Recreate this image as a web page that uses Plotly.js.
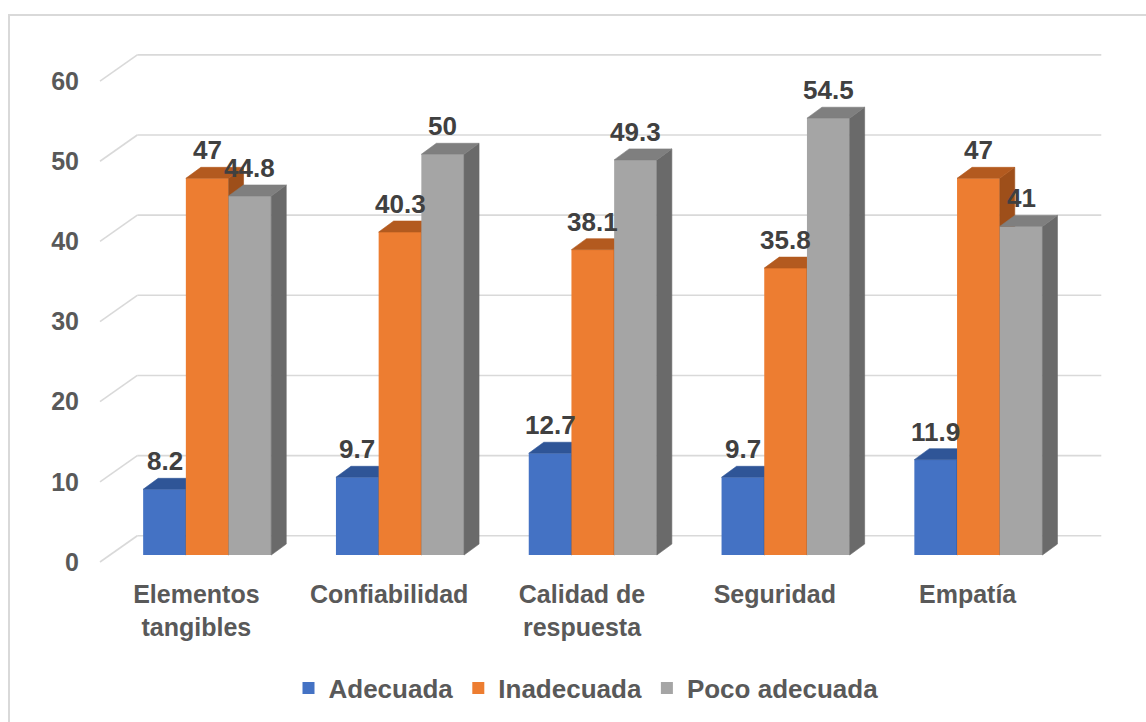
<!DOCTYPE html>
<html>
<head>
<meta charset="utf-8">
<script src="https://cdn.plot.ly/plotly-3.0.1.min.js"></script>
<style>
html, body { margin: 0; padding: 0; background: #ffffff; }
#chart { width: 1146px; height: 722px; }
</style>
</head>
<body>
<div id="chart"></div>
<script>
// ---- data ----
const categories = ['Elementos<br>tangibles', 'Confiabilidad', 'Calidad de<br>respuesta', 'Seguridad', 'Empatía'];
const seriesNames = ['Adecuada', 'Inadecuada', 'Poco adecuada'];
const adecuada = [8.2, 9.7, 12.7, 9.7, 11.9];
const inadecuada = [47, 40.3, 38.1, 35.8, 47];
const pocoAdecuada = [44.8, 50, 49.3, 54.5, 41];
const yTicks = [0, 10, 20, 30, 40, 50, 60];

// ---- colours: front face, top face, side face ----
const frontColors = ['#4472C4', '#ED7D31', '#A5A5A5'];
const topColors = ['#2F5597', '#B35A1F', '#7F7F7F'];
const sideColors = ['#27487F', '#9E4F1A', '#6A6A6A'];
const labelColor = '#404040';
const axisTextColor = '#595959';
const gridColor = '#D9D9D9';
const fontFamily = '"Liberation Sans", Arial, sans-serif';

// ---- geometry (pixels) of the oblique 3-D box ----
const W = 1146, H = 722;
const plotL = 92, plotR = 1112, plotT = 30, plotB = 571;
const planeLeft = 110.8;     // left edge of the plane the bars stand on
const catPx = 192.8;         // width of one category slot
const zeroPx = 556;          // row of value 0 on the bar plane
const unitPx = 8.03;         // pixels per value unit
const barPx = 42.7;          // bar front width
const depthPx = [15, 11];    // bar depth: right, up
const wallPx = [26.5, 19.3]; // back wall offset from bar plane: right, up
const frontPx = [-10.8, 7];  // front edge offset from bar plane: right, down

const xRange = [-0.5 - (planeLeft - plotL) / catPx, -0.5 + (plotR - planeLeft) / catPx];
const yRange = [(zeroPx - plotB) / unitPx, (zeroPx - plotT) / unitPx];

const xs = categories.map((_, i) => i);
const barW = barPx / catPx;
const ddx = depthPx[0] / catPx, ddy = depthPx[1] / unitPx;
const wallDx = wallPx[0] / catPx, wallDy = wallPx[1] / unitPx;
const frontDx = frontPx[0] / catPx, frontDy = frontPx[1] / unitPx;

const seriesValues = [adecuada, inadecuada, pocoAdecuada];
const traces = [];
const annotations = [];

seriesValues.forEach((vals, s) => {
  const n = s + 1;
  const xa = n === 1 ? 'x' : 'x' + n;
  const ya = n === 1 ? 'y' : 'y' + n;
  const off = (s - 1.5) * barW;

  // front faces
  traces.push({
    type: 'bar', name: seriesNames[s], x: xs, y: vals,
    width: barW, offset: off, xaxis: xa, yaxis: ya,
    marker: { color: frontColors[s], line: { width: 0 } },
    hoverinfo: 'y+name'
  });

  // top and side faces as closed polygons
  const tx = [], ty = [], sx = [], sy = [];
  vals.forEach((v, i) => {
    const x0 = i + off, x1 = x0 + barW;
    tx.push(x0, x1, x1 + ddx, x0 + ddx, x0, null);
    ty.push(v, v, v + ddy, v + ddy, v, null);
    sx.push(x1, x1, x1 + ddx, x1 + ddx, x1, null);
    sy.push(0, v, v + ddy, ddy, 0, null);

    annotations.push({
      xref: 'x', yref: 'y', x: i + off + barW / 2, y: v,
      text: String(v), showarrow: false,
      xanchor: 'center', yanchor: 'bottom', yshift: 11,
      font: { family: fontFamily, size: 26, color: labelColor, weight: 'bold' }
    });
  });
  traces.push({
    type: 'scatter', mode: 'lines', x: sx, y: sy, fill: 'toself',
    fillcolor: sideColors[s], line: { width: 0.6, color: sideColors[s] },
    xaxis: xa, yaxis: ya, showlegend: false, hoverinfo: 'skip'
  });
  traces.push({
    type: 'scatter', mode: 'lines', x: tx, y: ty, fill: 'toself',
    fillcolor: topColors[s], line: { width: 0.6, color: topColors[s] },
    xaxis: xa, yaxis: ya, showlegend: false, hoverinfo: 'skip'
  });
});

// empty trace that carries the tick-label axes
traces.push({ type: 'scatter', x: [], y: [], xaxis: 'x4', yaxis: 'y4', showlegend: false, hoverinfo: 'skip' });

// back wall gridlines and their diagonal run to the front edge
const shapes = [];
yTicks.forEach(t => {
  shapes.push({
    type: 'line', xref: 'x', yref: 'y', layer: 'below',
    x0: -0.5 + wallDx, x1: xs.length - 0.5 + wallDx, y0: t + wallDy, y1: t + wallDy,
    line: { color: gridColor, width: 1.6 }
  });
  shapes.push({
    type: 'line', xref: 'x', yref: 'y', layer: 'below',
    x0: -0.5 + frontDx, y0: t - frontDy, x1: -0.5 + wallDx, y1: t + wallDy,
    line: { color: gridColor, width: 1.6 }
  });
});

// chart area frame
const px2x = p => (p - plotL) / (plotR - plotL);
const px2y = p => (plotB - p) / (plotB - plotT);
shapes.push({
  type: 'rect', xref: 'paper', yref: 'paper', layer: 'below',
  x0: px2x(9), x1: px2x(W + 20), y0: px2y(15), y1: px2y(H + 20),
  line: { color: '#D9D9D9', width: 2 }, fillcolor: 'rgba(0,0,0,0)'
});

const hiddenAxis = { showgrid: false, zeroline: false, showticklabels: false, showline: false, ticks: '', fixedrange: true };
const tickFont = { family: fontFamily, size: 25, color: axisTextColor, weight: 'bold' };

const layout = {
  width: W, height: H,
  margin: { l: plotL, r: W - plotR, t: plotT, b: H - plotB, pad: 0 },
  paper_bgcolor: '#ffffff', plot_bgcolor: 'rgba(0,0,0,0)',
  showlegend: true,
  legend: {
    orientation: 'h', x: px2x(586), xanchor: 'center', y: px2y(688), yanchor: 'middle',
    font: { family: fontFamily, size: 26, color: axisTextColor, weight: 'bold' },
    traceorder: 'normal', itemclick: false, itemdoubleclick: false
  },
  xaxis: Object.assign({ range: xRange }, hiddenAxis),
  yaxis: Object.assign({ range: yRange }, hiddenAxis),
  xaxis2: Object.assign({ range: xRange, overlaying: 'x', anchor: 'y2' }, hiddenAxis),
  yaxis2: Object.assign({ range: yRange, overlaying: 'y', anchor: 'x2' }, hiddenAxis),
  xaxis3: Object.assign({ range: xRange, overlaying: 'x', anchor: 'y3' }, hiddenAxis),
  yaxis3: Object.assign({ range: yRange, overlaying: 'y', anchor: 'x3' }, hiddenAxis),
  // category labels sit on the front edge of the floor
  xaxis4: {
    range: xRange.map(v => v - frontDx), overlaying: 'x', anchor: 'y4',
    tickmode: 'array', tickvals: xs, ticktext: categories,
    showgrid: false, zeroline: false, showline: false,
    ticks: 'outside', ticklen: 2, tickcolor: 'rgba(0,0,0,0)',
    tickfont: tickFont, fixedrange: true
  },
  // value labels sit on the front edge of the side wall
  yaxis4: {
    range: yRange.map(v => v + frontDy), overlaying: 'y', anchor: 'x4',
    tickmode: 'array', tickvals: yTicks,
    showgrid: false, zeroline: false, showline: false,
    ticks: 'outside', ticklen: 7, tickcolor: 'rgba(0,0,0,0)',
    tickfont: tickFont, fixedrange: true
  },
  shapes: shapes,
  annotations: annotations
};

Plotly.newPlot('chart', traces, layout, { displayModeBar: false, staticPlot: false });
</script>
</body>
</html>
